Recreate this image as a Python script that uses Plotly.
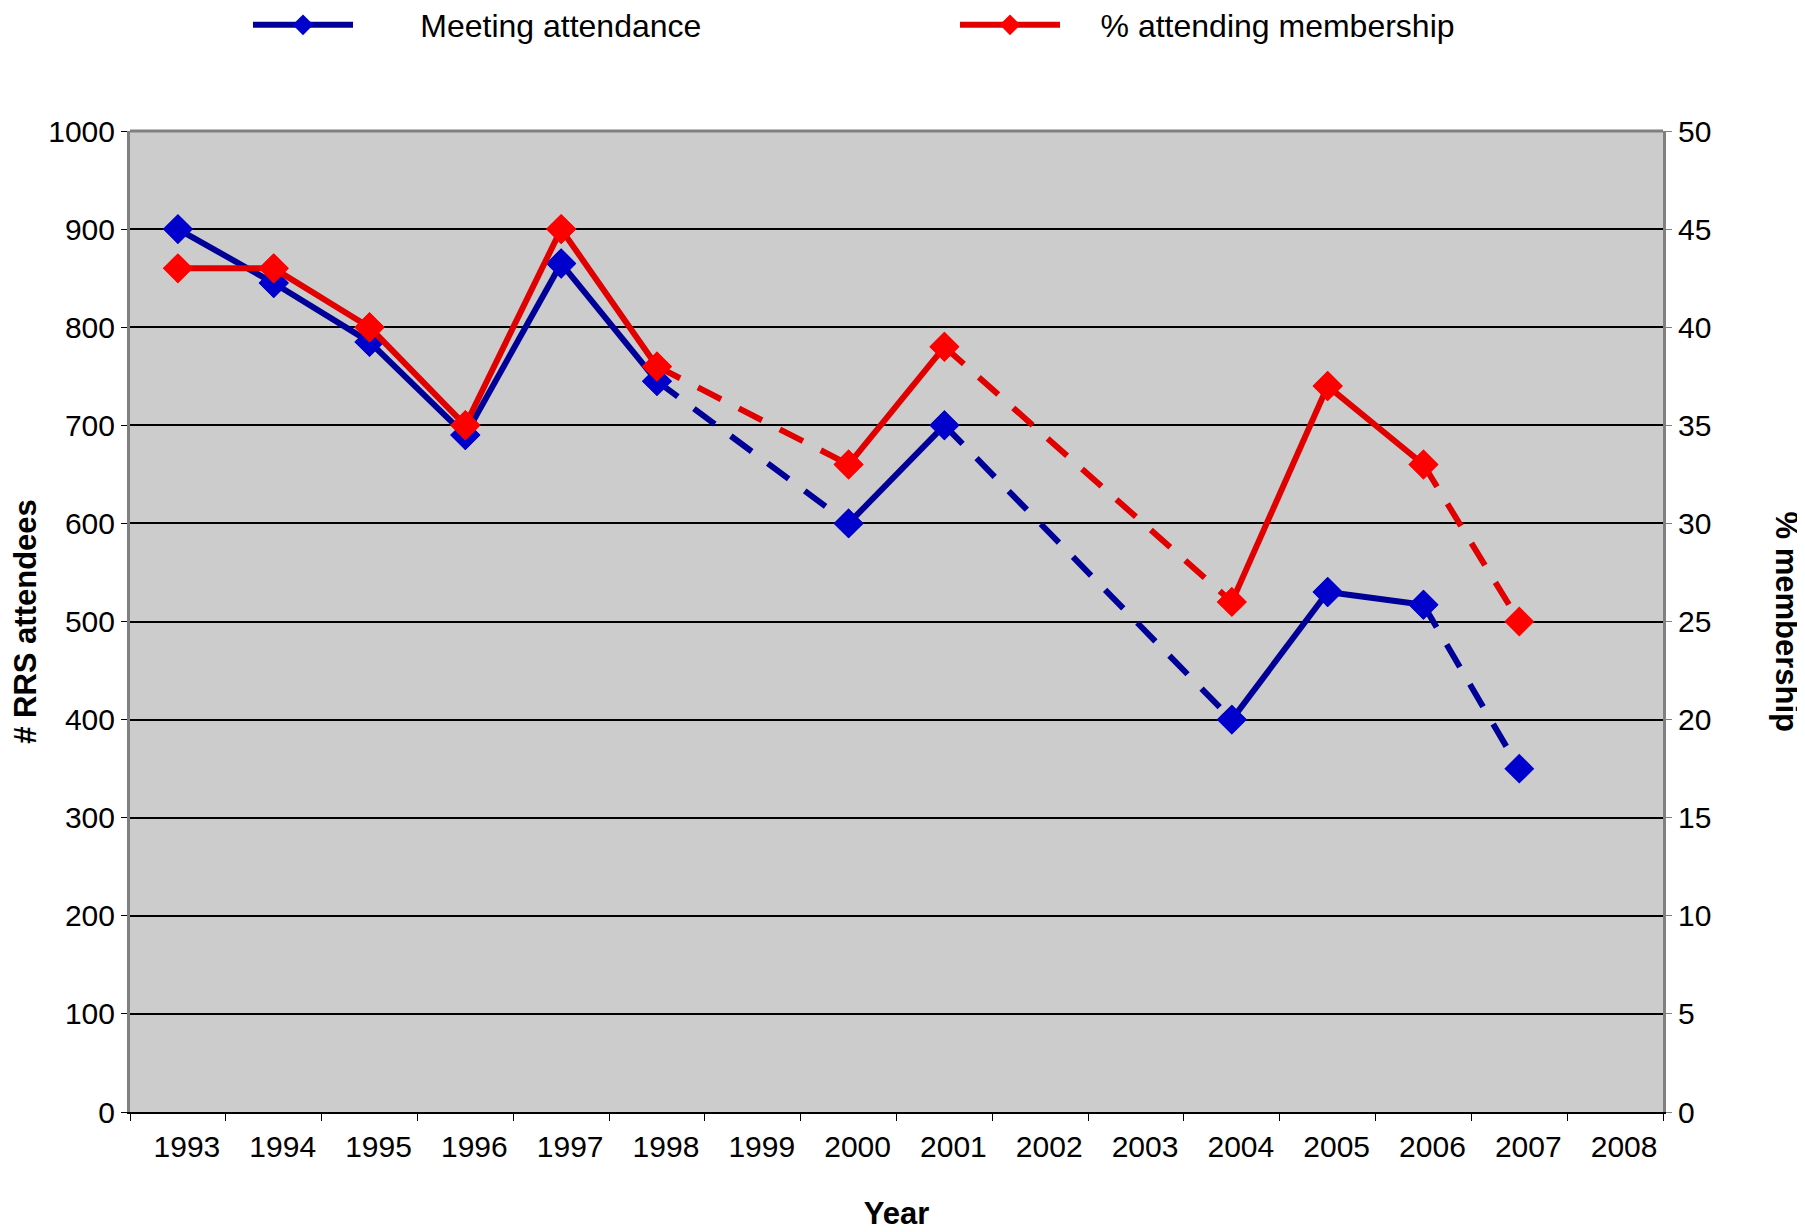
import plotly.graph_objects as go

# ---- data ----
years = [str(y) for y in range(1993, 2009)]
attendance = [900, 845, 785, 690, 865, 745, None, 600, 700, None, None, 400, 530, 517, 350, None]
percent = [43, 43, 40, 35, 45, 38, None, 33, 39, None, None, 26, 37, 33, 25, None]
# link from these years to the next reported year is drawn dashed
dashed_after = ["1998", "2001", "2006"]

series_names = ["Meeting attendance", "% attending membership"]
line_colors = ["#000099", "#E00000"]
marker_colors = ["#0000CC", "#FF0000"]
legend_pad = [7, 4]  # non-breaking spaces between legend symbol and label

FONT = "Liberation Sans, Arial, sans-serif"


def split_segments(values):
    pts = [(x, v) for x, v in zip(years, values) if v is not None]
    solid_x, solid_y, dash_x, dash_y = [], [], [], []
    for (x0, y0), (x1, y1) in zip(pts[:-1], pts[1:]):
        if x0 in dashed_after:
            dash_x += [x0, x1, None]
            dash_y += [y0, y1, None]
        else:
            solid_x += [x0, x1, None]
            solid_y += [y0, y1, None]
    return solid_x, solid_y, dash_x, dash_y, pts


fig = go.Figure()
for values, name, lc, mc, yax, pad in zip([attendance, percent], series_names,
                                          line_colors, marker_colors, ["y", "y2"],
                                          legend_pad):
    sx, sy, dx, dy, pts = split_segments(values)
    marker = dict(symbol="diamond", size=23, color=mc, line=dict(width=0))
    fig.add_trace(go.Scatter(x=dx, y=dy, mode="lines", yaxis=yax,
                             line=dict(color=lc, width=6, dash="26px,20px"),
                             showlegend=False, hoverinfo="skip"))
    fig.add_trace(go.Scatter(x=sx, y=sy, mode="lines+markers", yaxis=yax,
                             name="\u00a0" * pad + name, line=dict(color=lc, width=6),
                             marker=marker, showlegend=True))
    fig.add_trace(go.Scatter(x=[p[0] for p in pts], y=[p[1] for p in pts],
                             mode="markers", yaxis=yax, marker=marker,
                             showlegend=False))

tick_font = dict(family=FONT, size=30, color="#000000")
title_font = dict(family=FONT, size=31, color="#000000")

L, R, T, B = 122, 150, 123, 128
plot_w = 1805 - L - R
plot_h = 1232 - T - B

fig.update_layout(
    width=1805, height=1232,
    margin=dict(l=L, r=R, t=T, b=B, autoexpand=False),
    paper_bgcolor="#FFFFFF",
    plot_bgcolor="#CCCCCC",
    font=dict(family=FONT, color="#000000"),
    legend=dict(orientation="h", x=(240 - L) / plot_w, xanchor="left",
                y=1 + (T - 17) / plot_h, yanchor="middle",
                font=dict(family=FONT, size=32), itemwidth=100,
                entrywidth=592, bgcolor="rgba(0,0,0,0)"),
    xaxis=dict(type="category", categoryorder="array", categoryarray=years,
               range=[-0.5, len(years) - 0.5],
               tickfont=tick_font, ticks="outside", ticklen=7, tickwidth=1,
               tickcolor="#000000", tickson="boundaries",
               ticklabelstandoff=7, ticklabelshift=9,
               showline=True, linecolor="#000000", linewidth=2,
               showgrid=False, mirror=False, automargin=False,
               title=dict(text="<b>Year</b>", font=title_font, standoff=40)),
    yaxis=dict(range=[0, 1000], dtick=100, tickfont=tick_font,
               ticks="outside", ticklen=6, tickcolor="#000000",
               showgrid=True, gridcolor="#000000", gridwidth=2,
               zeroline=False, showline=True, linecolor="#808080", linewidth=3,
               automargin=False,
               title=dict(text="<b># RRS attendees</b>", font=title_font, standoff=22)),
    yaxis2=dict(range=[0, 50], dtick=5, overlaying="y", side="right",
                tickfont=tick_font, ticks="outside", ticklen=6,
                tickcolor="#808080", showgrid=False, zeroline=False,
                showline=True, linecolor="#808080", linewidth=3, automargin=False),
    annotations=[dict(text="<b>% membership</b>", xref="paper", yref="paper",
                      x=1.0 + (1778 - (L + plot_w)) / plot_w, y=0.5, textangle=90,
                      showarrow=False, font=title_font,
                      xanchor="center", yanchor="middle")],
    shapes=[dict(type="line", xref="paper", yref="paper", x0=0, x1=1, y0=1, y1=1,
                 line=dict(color="#808080", width=3))],
)

fig.write_html("out.html")
